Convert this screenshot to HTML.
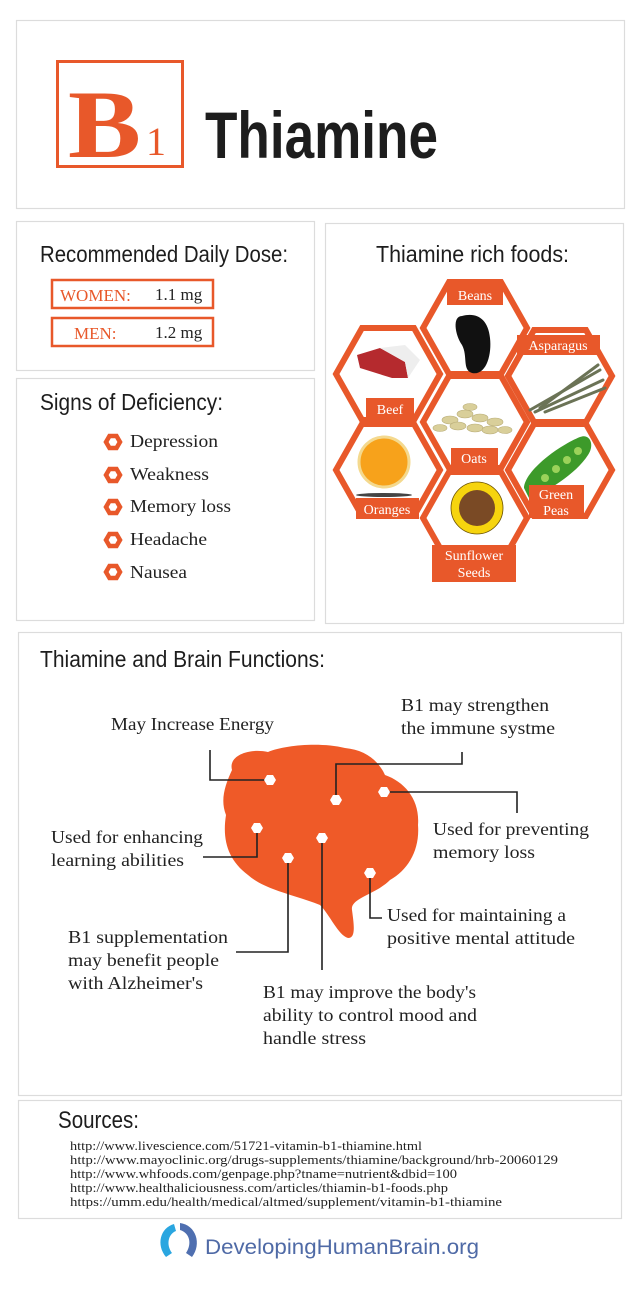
<!DOCTYPE html>
<html><head><meta charset="utf-8"><style>
html,body{margin:0;padding:0;background:#fff;}
svg{display:block;}
.h{font-family:"Liberation Sans",sans-serif;fill:#1d1d1d;}
.s{font-family:"Liberation Serif",serif;fill:#222;}
.w{font-family:"Liberation Serif",serif;fill:#fff;font-size:14px;}
</style></head><body>
<svg width="640" height="1297" viewBox="0 0 640 1297" xmlns="http://www.w3.org/2000/svg">
<rect width="640" height="1297" fill="#fff"/>
<g fill="#fff" stroke="#dcdcdc" stroke-width="1.2">
<rect x="16.5" y="20.5" width="608" height="188"/>
<rect x="16.5" y="221.5" width="298" height="149"/>
<rect x="16.5" y="378.5" width="298" height="242"/>
<rect x="325.5" y="223.5" width="298" height="400"/>
<rect x="18.5" y="632.5" width="603" height="463"/>
<rect x="18.5" y="1100.5" width="603" height="118"/>
</g>
<!-- title -->
<rect x="57.5" y="61.5" width="125" height="105" fill="none" stroke="#e8582a" stroke-width="3"/>
<text x="68" y="157" font-family="Liberation Serif,serif" font-weight="bold" font-size="96" fill="#e8582a" textLength="73" lengthAdjust="spacingAndGlyphs">B</text>
<text x="146" y="155" font-family="Liberation Serif,serif" font-size="40" fill="#e8582a">1</text>
<text x="205" y="158" class="h" font-weight="bold" font-size="66" textLength="233" lengthAdjust="spacingAndGlyphs">Thiamine</text>
<!-- dose -->
<text x="40" y="262" class="h" font-size="23" textLength="248" lengthAdjust="spacingAndGlyphs">Recommended Daily Dose:</text>
<rect x="52" y="280" width="161" height="28" fill="none" stroke="#e8582a" stroke-width="2.5"/>
<rect x="52" y="318" width="161" height="28" fill="none" stroke="#e8582a" stroke-width="2.5"/>
<text x="60" y="301" class="s" font-size="17" style="fill:#e8582a">WOMEN:</text>
<text x="155" y="300" class="s" font-size="17">1.1 mg</text>
<text x="74" y="339" class="s" font-size="17" style="fill:#e8582a">MEN:</text>
<text x="155" y="338" class="s" font-size="17">1.2 mg</text>
<!-- signs -->
<text x="40" y="410" class="h" font-size="23" textLength="183" lengthAdjust="spacingAndGlyphs">Signs of Deficiency:</text>
<g fill="none" stroke="#e8582a" stroke-width="4.5">
<polygon points="106,442 109.5,436 116.5,436 120,442 116.5,448 109.5,448"/>
<polygon points="106,475 109.5,469 116.5,469 120,475 116.5,481 109.5,481"/>
<polygon points="106,507 109.5,501 116.5,501 120,507 116.5,513 109.5,513"/>
<polygon points="106,540 109.5,534 116.5,534 120,540 116.5,546 109.5,546"/>
<polygon points="106,572 109.5,566 116.5,566 120,572 116.5,578 109.5,578"/>
</g>
<g font-size="18">
<text x="130" y="447" class="s" textLength="88" lengthAdjust="spacingAndGlyphs">Depression</text>
<text x="130" y="480" class="s" textLength="79" lengthAdjust="spacingAndGlyphs">Weakness</text>
<text x="130" y="512" class="s" textLength="101" lengthAdjust="spacingAndGlyphs">Memory loss</text>
<text x="130" y="545" class="s" textLength="77" lengthAdjust="spacingAndGlyphs">Headache</text>
<text x="130" y="578" class="s" textLength="57" lengthAdjust="spacingAndGlyphs">Nausea</text>
</g>
<!-- foods -->
<text x="376" y="262" class="h" font-size="23" textLength="193" lengthAdjust="spacingAndGlyphs">Thiamine rich foods:</text>
<g fill="#fff" stroke="#e8582a" stroke-width="6" stroke-linejoin="miter">
<polygon points="336,374 362,328 414,328 440,374 414,420 362,420"/>
<polygon points="508,376 534,330 586,330 612,376 586,422 534,422"/>
<polygon points="336,470 362,424 414,424 440,470 414,516 362,516"/>
<polygon points="508,470 534,424 586,424 612,470 586,516 534,516"/>
<polygon points="423,328 449,282 501,282 527,328 501,374 449,374"/>
<polygon points="423,422 449,376 501,376 527,422 501,468 449,468"/>
<polygon points="423,518 449,472 501,472 527,518 501,564 449,564"/>
</g>
<path d="M462,316 C452,316 455,335 462,345 C468,356 462,370 472,373 C486,376 492,355 490,338 C488,318 476,312 462,316 Z" fill="#111"/>
<path d="M357,355 L380,348 L405,362 L408,378 L392,378 L360,368 Z" fill="#b52a2e"/>
<path d="M380,348 L405,345 L420,360 L408,378 L405,362 Z" fill="#eee"/>
<g stroke="#6b7356" stroke-width="3" stroke-linecap="round"><line x1="530" y1="410" x2="600" y2="370"/><line x1="535" y1="412" x2="603" y2="380"/><line x1="540" y1="408" x2="598" y2="365"/><line x1="545" y1="412" x2="605" y2="388"/></g>
<g fill="#d9cf9a" stroke="#b9ad78" stroke-width="0.6"><ellipse cx="450" cy="420" rx="8" ry="4"/><ellipse cx="465" cy="414" rx="8" ry="4"/><ellipse cx="480" cy="418" rx="8" ry="4"/><ellipse cx="495" cy="422" rx="8" ry="4"/><ellipse cx="458" cy="426" rx="8" ry="4"/><ellipse cx="475" cy="428" rx="8" ry="4"/><ellipse cx="490" cy="430" rx="8" ry="4"/><ellipse cx="440" cy="428" rx="7" ry="3.5"/><ellipse cx="505" cy="430" rx="7" ry="3.5"/><ellipse cx="470" cy="407" rx="7" ry="3.5"/></g>
<circle cx="384" cy="462" r="25" fill="#f7a21b" stroke="#f4d98e" stroke-width="3"/>
<ellipse cx="384" cy="495" rx="28" ry="2" fill="#444"/>
<path d="M524,488 C525,470 560,445 580,437 C590,433 595,445 588,455 C575,475 548,490 530,500 Z" fill="#3d9a2a"/>
<g fill="#9bd25a"><circle cx="545" cy="478" r="4"/><circle cx="556" cy="469" r="4"/><circle cx="567" cy="460" r="4"/><circle cx="578" cy="451" r="4"/></g>
<circle cx="477" cy="508" r="26" fill="#f6d40e" stroke="#6a5000" stroke-width="0.8"/>
<circle cx="477" cy="508" r="18" fill="#7a4a25"/>
<g fill="#e8582a">
<rect x="447" y="285" width="56" height="20"/>
<rect x="517" y="335" width="83" height="20"/>
<rect x="366" y="398" width="48" height="21"/>
<rect x="451" y="448" width="47" height="20"/>
<rect x="356" y="498" width="63" height="21"/>
<rect x="529" y="485" width="55" height="33"/>
<rect x="432" y="545" width="84" height="37"/>
</g>
<text x="475" y="300" class="w" text-anchor="middle">Beans</text>
<text x="558" y="350" class="w" text-anchor="middle">Asparagus</text>
<text x="390" y="414" class="w" text-anchor="middle">Beef</text>
<text x="474" y="463" class="w" text-anchor="middle">Oats</text>
<text x="387" y="514" class="w" text-anchor="middle">Oranges</text>
<text x="556" y="499" class="w" text-anchor="middle">Green</text>
<text x="556" y="515" class="w" text-anchor="middle">Peas</text>
<text x="474" y="560" class="w" text-anchor="middle">Sunflower</text>
<text x="474" y="577" class="w" text-anchor="middle">Seeds</text>
<!-- brain -->
<text x="40" y="667" class="h" font-size="23" textLength="285" lengthAdjust="spacingAndGlyphs">Thiamine and Brain Functions:</text>
<path d="M232,770 C228,755 250,748 268,752 C285,745 320,742 345,748 C365,750 378,760 385,775 C405,782 420,800 418,825 C420,850 408,870 390,880 C375,895 350,898 352,910 C354,925 356,938 348,938 C338,935 330,915 320,905 C295,895 265,890 248,875 C228,860 222,840 226,815 C220,800 225,785 232,770 Z" fill="#ef5a28"/>
<g fill="none" stroke="#222" stroke-width="1.6">
<polyline points="210,750 210,780 270,780"/>
<polyline points="462,752 462,764 336,764 336,800"/>
<polyline points="384,792 517,792 517,813"/>
<polyline points="257,828 257,857 203,857"/>
<polyline points="288,858 288,952 236,952"/>
<polyline points="322,838 322,970"/>
<polyline points="370,873 370,918 382,918"/>
</g>
<g fill="#fff">
<polygon points="264,780 267,775 273,775 276,780 273,785 267,785"/>
<polygon points="330,800 333,795 339,795 342,800 339,805 333,805"/>
<polygon points="378,792 381,787 387,787 390,792 387,797 381,797"/>
<polygon points="251,828 254,823 260,823 263,828 260,833 254,833"/>
<polygon points="316,838 319,833 325,833 328,838 325,843 319,843"/>
<polygon points="282,858 285,853 291,853 294,858 291,863 285,863"/>
<polygon points="364,873 367,868 373,868 376,873 373,878 367,878"/>
</g>
<g font-size="18">
<text x="111" y="730" class="s" textLength="163" lengthAdjust="spacingAndGlyphs">May Increase Energy</text>
<text x="401" y="711" class="s" textLength="148" lengthAdjust="spacingAndGlyphs">B1 may strengthen</text>
<text x="401" y="734" class="s" textLength="154" lengthAdjust="spacingAndGlyphs">the immune systme</text>
<text x="433" y="835" class="s" textLength="156" lengthAdjust="spacingAndGlyphs">Used for preventing</text>
<text x="433" y="858" class="s" textLength="102" lengthAdjust="spacingAndGlyphs">memory loss</text>
<text x="51" y="843" class="s" textLength="152" lengthAdjust="spacingAndGlyphs">Used for enhancing</text>
<text x="51" y="866" class="s" textLength="133" lengthAdjust="spacingAndGlyphs">learning abilities</text>
<text x="387" y="921" class="s" textLength="179" lengthAdjust="spacingAndGlyphs">Used for maintaining a</text>
<text x="387" y="944" class="s" textLength="188" lengthAdjust="spacingAndGlyphs">positive mental attitude</text>
<text x="68" y="943" class="s" textLength="160" lengthAdjust="spacingAndGlyphs">B1 supplementation</text>
<text x="68" y="966" class="s" textLength="151" lengthAdjust="spacingAndGlyphs">may benefit people</text>
<text x="68" y="989" class="s" textLength="135" lengthAdjust="spacingAndGlyphs">with Alzheimer's</text>
<text x="263" y="998" class="s" textLength="213" lengthAdjust="spacingAndGlyphs">B1 may improve the body's</text>
<text x="263" y="1021" class="s" textLength="214" lengthAdjust="spacingAndGlyphs">ability to control mood and</text>
<text x="263" y="1044" class="s" textLength="103" lengthAdjust="spacingAndGlyphs">handle stress</text>
</g>
<!-- sources -->
<text x="58" y="1128" class="h" font-size="24" textLength="81" lengthAdjust="spacingAndGlyphs">Sources:</text>
<g font-size="13" style="fill:#333">
<text x="70" y="1150" class="s" textLength="352" lengthAdjust="spacingAndGlyphs">http://www.livescience.com/51721-vitamin-b1-thiamine.html</text>
<text x="70" y="1164" class="s" textLength="488" lengthAdjust="spacingAndGlyphs">http://www.mayoclinic.org/drugs-supplements/thiamine/background/hrb-20060129</text>
<text x="70" y="1178" class="s" textLength="387" lengthAdjust="spacingAndGlyphs">http://www.whfoods.com/genpage.php?tname=nutrient&amp;dbid=100</text>
<text x="70" y="1192" class="s" textLength="378" lengthAdjust="spacingAndGlyphs">http://www.healthaliciousness.com/articles/thiamin-b1-foods.php</text>
<text x="70" y="1206" class="s" textLength="432" lengthAdjust="spacingAndGlyphs">https://umm.edu/health/medical/altmed/supplement/vitamin-b1-thiamine</text>
</g>
<!-- logo -->
<path d="M174,1224 C160,1228 156,1245 166,1257 L172,1253 C166,1245 168,1234 176,1231 Z" fill="#2aa6e0"/>
<path d="M180,1223 C196,1225 202,1244 192,1257 L186,1253 C192,1244 190,1233 180,1230 Z" fill="#4f6fb0"/>
<text x="205" y="1254" font-family="Liberation Sans,sans-serif" font-size="21" fill="#4f6aa6" textLength="274" lengthAdjust="spacingAndGlyphs">DevelopingHumanBrain.org</text>
</svg>
</body></html>
